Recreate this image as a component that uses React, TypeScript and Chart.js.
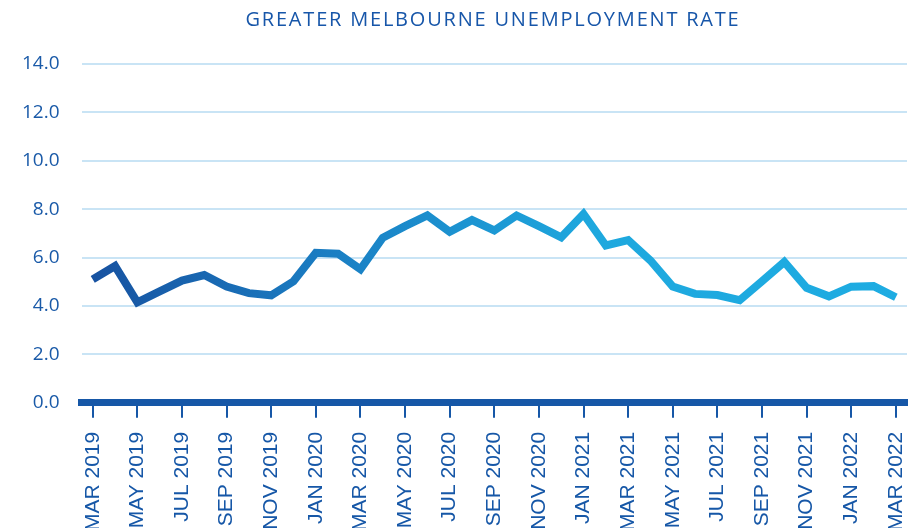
import React, { useEffect, useRef } from "react";
import { Chart, registerables } from "chart.js";

Chart.register(...registerables);

const TITLE = "GREATER MELBOURNE UNEMPLOYMENT RATE";

const months = [
  "MAR 2019", "APR 2019", "MAY 2019", "JUN 2019", "JUL 2019", "AUG 2019",
  "SEP 2019", "OCT 2019", "NOV 2019", "DEC 2019", "JAN 2020", "FEB 2020",
  "MAR 2020", "APR 2020", "MAY 2020", "JUN 2020", "JUL 2020", "AUG 2020",
  "SEP 2020", "OCT 2020", "NOV 2020", "DEC 2020", "JAN 2021", "FEB 2021",
  "MAR 2021", "APR 2021", "MAY 2021", "JUN 2021", "JUL 2021", "AUG 2021",
  "SEP 2021", "OCT 2021", "NOV 2021", "DEC 2021", "JAN 2022", "FEB 2022",
  "MAR 2022",
];

const unemploymentRate = [
  5.1, 5.65, 4.15, 4.6, 5.05, 5.28,
  4.8, 4.53, 4.44, 5.02, 6.2, 6.16,
  5.52, 6.82, 7.3, 7.74, 7.07, 7.55,
  7.12, 7.74, 7.3, 6.84, 7.8, 6.5,
  6.72, 5.88, 4.8, 4.5, 4.45, 4.24,
  5.02, 5.82, 4.75, 4.4, 4.8, 4.82,
  4.36,
];

const Y_MIN = 0;
const Y_MAX = 14;
const Y_STEP = 2;

const DARK = "#1657a7";

export default function App() {
  const ref = useRef<HTMLCanvasElement>(null);

  useEffect(() => {
    if (!ref.current) return;
    const chart = new Chart(ref.current, {
      type: "line",
      data: {
        labels: months,
        datasets: [
          {
            data: unemploymentRate,
            borderColor: (ctx: any) => {
              const { chart } = ctx;
              const area = chart.chartArea;
              if (!area) return "#1a7fc3";
              const g = chart.ctx.createLinearGradient(area.left, 0, area.right, 0);
              g.addColorStop(0, "#17509f");
              g.addColorStop(0.3, "#1a7ec3");
              g.addColorStop(0.62, "#1ea8de");
              g.addColorStop(1, "#1eace2");
              return g;
            },
            borderWidth: 8,
            pointRadius: 0,
            tension: 0,
            borderJoinStyle: "miter",
            borderCapStyle: "butt",
            fill: false,
          },
        ],
      },
      options: {
        animation: false,
        responsive: true,
        maintainAspectRatio: false,
        layout: { padding: { left: 0, right: 10, top: 64, bottom: 0 } },
        plugins: {
          legend: { display: false },
          tooltip: { enabled: false },
          title: { display: false },
        },
        scales: {
          x: {
            offset: true,
            afterFit: (scale: any) => {
              scale.paddingLeft = 0;
              scale.paddingRight = 0;
            },
            grid: {
              offset: false,
              drawOnChartArea: false,
              drawTicks: true,
              tickLength: 15,
              color: DARK,
              lineWidth: 2,
            },
            border: { display: true, color: DARK, width: 7 },
            ticks: {
              autoSkip: false,
              maxRotation: 90,
              minRotation: 90,
              padding: 14,
              color: DARK,
              font: { family: "'Liberation Sans', Arial, sans-serif", size: 21 },
              callback: (_v: any, i: number) => (i % 2 === 0 ? months[i] : null),
            },
          },
          y: {
            min: Y_MIN,
            max: Y_MAX,
            afterFit: (scale: any) => {
              scale.paddingTop = 0;
              scale.paddingBottom = 0;
            },
            ticks: {
              stepSize: Y_STEP,
              padding: 22,
              color: "#1a5aa8",
              font: { family: "'Open Sans', sans-serif", size: 19 },
              callback: (v: any) => Number(v).toFixed(1),
            },
            grid: { color: "#c9e4f5", lineWidth: 2, drawTicks: false },
            border: { display: false },
          },
        },
      },
    });
    if ((document as any).fonts && (document as any).fonts.ready) {
      (document as any).fonts.ready.then(() => {
        try { chart.update(); } catch (e) {}
      });
    }
    return () => chart.destroy();
  }, []);

  return (
    <div
      style={{
        position: "fixed",
        left: 0,
        top: 0,
        width: 917,
        height: 528,
        overflow: "hidden",
        background: "#fff",
      }}
    >
      <div style={{ position: "absolute", left: 0, top: 0, width: 917, height: 545 }}>
        <canvas ref={ref} />
      </div>
      <div
        style={{
          position: "absolute",
          left: 79,
          width: 828,
          top: 7,
          textAlign: "center",
          fontFamily: "'Open Sans', sans-serif",
          fontSize: 20,
          lineHeight: "24px",
          letterSpacing: "1.8px",
          color: "#1756a9",
          whiteSpace: "nowrap",
        }}
      >
        {TITLE}
      </div>
    </div>
  );
}
